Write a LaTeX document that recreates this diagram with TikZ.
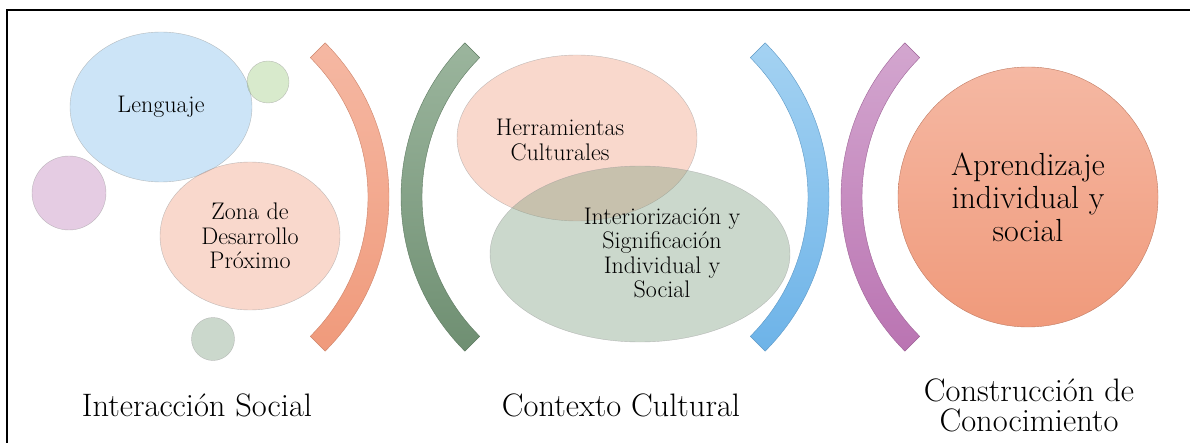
\documentclass[tikz,border=0pt]{standalone}
\usepackage{fontspec}
\usetikzlibrary{shapes.geometric}
\definecolor{sorange}{RGB}{242,168,142}
\definecolor{sgreen}{RGB}{126,158,128}
\definecolor{sblue}{RGB}{141,196,238}
\definecolor{spurple}{RGB}{198,142,194}
\definecolor{slime}{RGB}{169,209,142}
\definecolor{orangetop}{RGB}{245,184,163}
\definecolor{orangebot}{RGB}{240,154,123}
\definecolor{greentop}{RGB}{155,181,157}
\definecolor{greenbot}{RGB}{111,143,114}
\definecolor{bluetop}{RGB}{164,210,242}
\definecolor{bluebot}{RGB}{109,179,232}
\definecolor{purpletop}{RGB}{211,166,207}
\definecolor{purplebot}{RGB}{186,116,178}

\begin{document}
\begin{tikzpicture}[x=1pt, y=1pt,
  bubble/.style={ellipse, inner sep=0pt, draw=black!40, line width=0.4pt, draw opacity=0.6,
    fill opacity=0.45, text opacity=1, align=center, font=\fontsize{24}{24.5}\selectfont},
  caption/.style={align=center, font=\fontsize{32.5}{30}\selectfont}]

\useasboundingbox (0,0) rectangle (1190,442);

% Frame
\draw[line width=1.5pt] (7,-10) -- (7,432) -- (1200,432);

% Brackets
\foreach \cx/\s/\e/\ctop/\cbot in {171/-45/45/orangetop/orangebot, 619/135/225/greentop/greenbot,
                                   611/-45/45/bluetop/bluebot, 1059/135/225/purpletop/purplebot} {
  \shadedraw[top color=\ctop, bottom color=\cbot, draw=\cbot!85!black, line width=0.4pt]
    (\cx,245) ++(\s:218) arc[start angle=\s, end angle=\e, radius=218]
    -- ([shift={(\e:197)}]\cx,245) arc[start angle=\e, end angle=\s, radius=197] -- cycle;
}

% Interaccion social
\node[bubble, fill=sblue, minimum width=182pt, minimum height=150pt] (lenguaje) at (161,335) {Lenguaje};
\node[bubble, fill=sorange, minimum width=180pt, minimum height=148pt] (zona) at (250,206) {Zona de\\Desarrollo\\Próximo};
\node[bubble, circle, fill=slime, minimum size=42pt] (dotlime) at (268,360) {};
\node[bubble, circle, fill=spurple, minimum size=74pt] (dotpurple) at (69,249) {};
\node[bubble, circle, fill=sgreen, fill opacity=0.4, minimum size=43pt] (dotgreen) at (213,103) {};

% Contexto cultural
\node[bubble, fill=sorange, minimum width=240pt, minimum height=166pt] (herramE) at (577,304) {};
\node[bubble, fill=sgreen, fill opacity=0.4, minimum width=300pt, minimum height=176pt] (interiorE) at (640,188) {};
\node[align=center, font=\fontsize{24}{24.5}\selectfont] (herram) at (560,302) {Herramientas\\Culturales};
\node[align=center, font=\fontsize{24}{24.5}\selectfont] (interior) at (662,189) {Interiorización y\\Significación\\Individual y\\Social};

% Construccion
\node[circle, minimum size=260pt, top color=orangetop, bottom color=orangebot, draw=orangebot!80!black,
  line width=0.4pt, align=center, font=\fontsize{32}{33}\selectfont] (aprend) at (1028,245)
  {Aprendizaje\\individual y\\social};

% Captions
\node[caption] (interac) at (197,37) {Interacción Social};
\node[caption] (contexto) at (621,37) {Contexto Cultural};
\node[caption] (construc) at (1029,37) {Construcción de\\Conocimiento};

\end{tikzpicture}
\end{document}
